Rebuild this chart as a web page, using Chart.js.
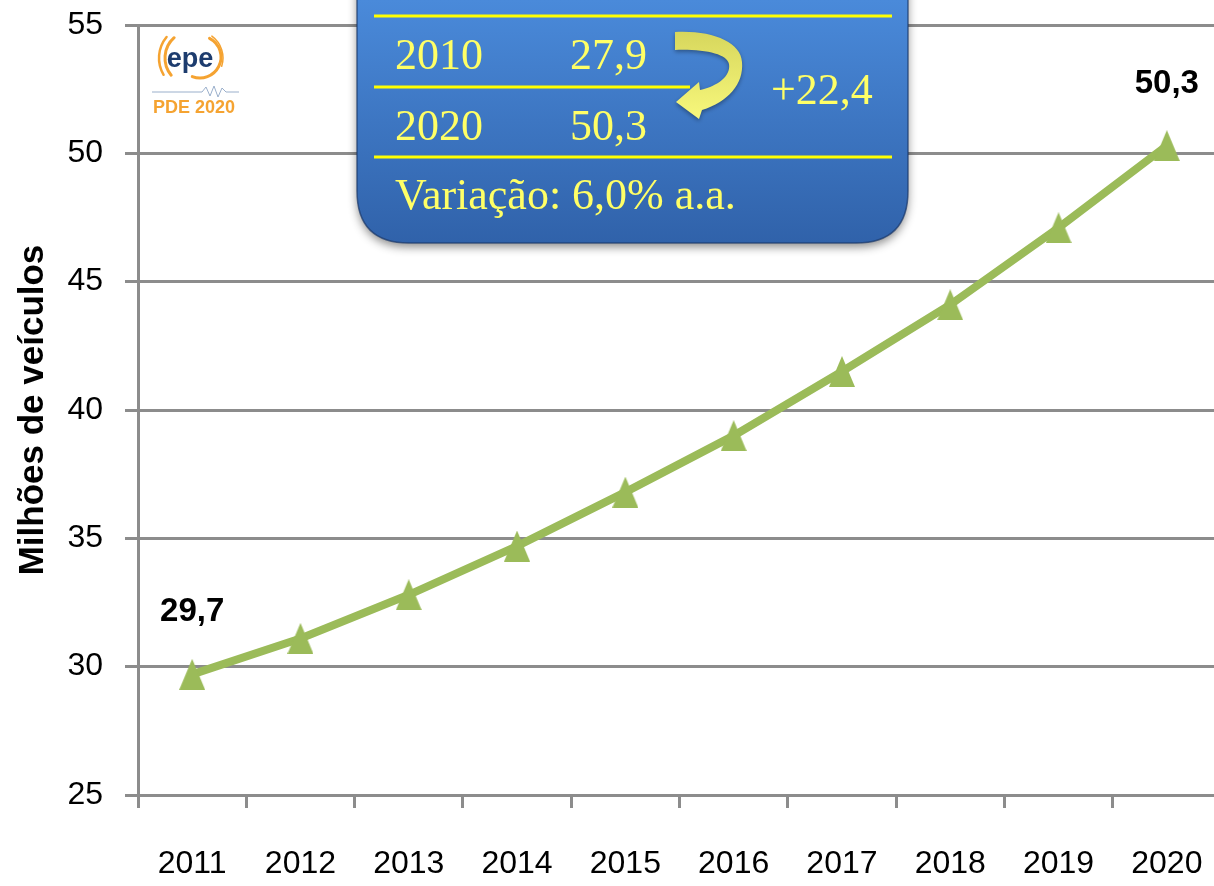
<!DOCTYPE html>
<html><head><meta charset="utf-8">
<script src="https://cdn.jsdelivr.net/npm/chart.js@4.4.0/dist/chart.umd.min.js"></script>
<style>
html,body{margin:0;padding:0;background:#fff;overflow:hidden;}
#wrap{position:relative;width:1243px;height:886px;}
canvas{display:block;}
</style></head><body>
<div id="wrap"><canvas id="c" width="1243" height="886"></canvas></div>
<script>
// ---- data ----
const years = ['2011','2012','2013','2014','2015','2016','2017','2018','2019','2020'];
const fleet = [29.7, 31.1, 32.8, 34.7, 36.8, 39.0, 41.5, 44.1, 47.1, 50.3];
const yTicks = [25, 30, 35, 40, 45, 50, 55];
const labelledIdx = [0, 9];
const boxYears = ['2010', '2020'];
const boxValues = ['27,9', '50,3'];
const boxDelta = '+22,4';
const boxRate = 'Variação: 6,0% a.a.';
const axisTitle = 'Milhões de veículos';
const logoWord = 'epe';
const logoSub = 'PDE 2020';

const TICKFONT = '"Liberation Sans", Arial, sans-serif';
const GREEN = '#9BBB59';
const GRID = '#8c8c8c';

// triangle marker (taller than wide, like the reference)
const tri = document.createElement('canvas');
tri.width = 26; tri.height = 31;
(function(){
  const t = tri.getContext('2d');
  t.fillStyle = GREEN;
  t.beginPath(); t.moveTo(13,0); t.lineTo(26,31); t.lineTo(0,31); t.closePath(); t.fill();
})();

function rr(ctx, x, y, w, h, r){
  ctx.beginPath();
  ctx.moveTo(x+r, y); ctx.lineTo(x+w-r, y); ctx.quadraticCurveTo(x+w, y, x+w, y+r);
  ctx.lineTo(x+w, y+h-r); ctx.quadraticCurveTo(x+w, y+h, x+w-r, y+h);
  ctx.lineTo(x+r, y+h); ctx.quadraticCurveTo(x, y+h, x, y+h-r);
  ctx.lineTo(x, y+r); ctx.quadraticCurveTo(x, y, x+r, y); ctx.closePath();
}

const decor = {
  id: 'decor',
  afterDatasetsDraw(chart){
    const ctx = chart.ctx;
    const meta = chart.getDatasetMeta(0);
    // data labels
    ctx.save();
    ctx.font = 'bold 33px ' + TICKFONT;
    ctx.fillStyle = '#000';
    ctx.textAlign = 'center';
    ctx.textBaseline = 'middle';
    labelledIdx.forEach(i => {
      const p = meta.data[i];
      ctx.fillText(String(fleet[i]).replace('.', ','), p.x, p.y - 62);
    });
    ctx.restore();

    // info box
    ctx.save();
    const bx = 357, by = -80, bw = 551, bh = 323;
    ctx.shadowColor = 'rgba(0,0,0,0.45)';
    ctx.shadowBlur = 10; ctx.shadowOffsetY = 4;
    const g = ctx.createLinearGradient(0, 0, 0, 243);
    g.addColorStop(0, '#4A8ADA'); g.addColorStop(1, '#3062AA');
    ctx.fillStyle = g;
    rr(ctx, bx, by, bw, bh, 52); ctx.fill();
    ctx.shadowColor = 'transparent';
    ctx.strokeStyle = 'rgba(25,55,105,0.7)'; ctx.lineWidth = 1.5;
    rr(ctx, bx, by, bw, bh, 52); ctx.stroke();
    // yellow rules
    ctx.strokeStyle = '#FFFF00'; ctx.lineWidth = 3;
    ctx.beginPath();
    ctx.moveTo(374, 16); ctx.lineTo(892, 16);
    ctx.moveTo(374, 87); ctx.lineTo(690, 87);
    ctx.moveTo(374, 157); ctx.lineTo(892, 157);
    ctx.stroke();
    // texts
    ctx.fillStyle = '#FFFF66';
    ctx.font = '44px "Liberation Serif", "DejaVu Serif", serif';
    ctx.textAlign = 'left'; ctx.textBaseline = 'alphabetic';
    ctx.fillText(boxYears[0], 395, 69);
    ctx.fillText(boxValues[0], 570, 69);
    ctx.fillText(boxYears[1], 395, 140);
    ctx.fillText(boxValues[1], 570, 140);
    ctx.fillText(boxDelta, 771, 104);
    ctx.fillText(boxRate, 395, 209);
    // curved arrow
    ctx.shadowColor = 'rgba(0,0,0,0.35)'; ctx.shadowBlur = 4; ctx.shadowOffsetY = 2;
    const ag = ctx.createLinearGradient(0, 30, 0, 120);
    ag.addColorStop(0, '#D6D65C'); ag.addColorStop(1, '#F8F87C');
    ctx.fillStyle = ag;
    ctx.beginPath();
    ctx.moveTo(675, 32);
    ctx.bezierCurveTo(712, 30, 741, 42, 742, 62);
    ctx.bezierCurveTo(744, 84, 728, 102, 702, 110);
    ctx.lineTo(699, 119);
    ctx.lineTo(676, 102);
    ctx.lineTo(699, 82);
    ctx.lineTo(700, 90);
    ctx.bezierCurveTo(718, 86, 731, 76, 729, 64);
    ctx.bezierCurveTo(727, 54, 705, 49, 675, 50);
    ctx.closePath(); ctx.fill();
    ctx.restore();

    // logo
    ctx.save();
    ctx.strokeStyle = '#F5A331'; ctx.lineCap = 'round';
    ctx.lineWidth = 2.5;
    ctx.beginPath(); ctx.arc(192, 58, 33, Math.PI*0.83, Math.PI*1.22); ctx.stroke();
    ctx.lineWidth = 3;
    ctx.beginPath(); ctx.arc(192, 58, 27, Math.PI*0.78, Math.PI*1.27); ctx.stroke();
    ctx.beginPath(); ctx.arc(200, 57, 21, -Math.PI*0.35, Math.PI*0.62); ctx.stroke();
    ctx.lineWidth = 1.5;
    ctx.beginPath(); ctx.arc(196, 58, 27, -Math.PI*0.30, Math.PI*0.10); ctx.stroke();
    ctx.fillStyle = '#1D3C6E';
    ctx.font = 'bold 27px "Liberation Sans", Arial, sans-serif';
    ctx.textAlign = 'center'; ctx.textBaseline = 'alphabetic';
    ctx.fillText(logoWord, 190, 67);
    ctx.strokeStyle = '#9AAFCB'; ctx.lineWidth = 1; ctx.lineCap = 'butt';
    ctx.beginPath();
    ctx.moveTo(152, 92); ctx.lineTo(202, 92); ctx.lineTo(206, 87); ctx.lineTo(210, 96);
    ctx.lineTo(214, 86); ctx.lineTo(218, 97); ctx.lineTo(222, 88); ctx.lineTo(226, 92);
    ctx.lineTo(239, 92); ctx.stroke();
    ctx.fillStyle = '#F5A331';
    ctx.font = 'bold 18px "Liberation Sans", Arial, sans-serif';
    ctx.fillText(logoSub, 194, 113);
    ctx.restore();
  }
};

new Chart(document.getElementById('c'), {
  type: 'line',
  data: {
    labels: years,
    datasets: [{
      data: fleet,
      borderColor: GREEN,
      backgroundColor: GREEN,
      borderWidth: 8,
      tension: 0,
      pointStyle: tri,
      pointRadius: 14,
      pointHoverRadius: 14,
      fill: false
    }]
  },
  options: {
    responsive: false,
    animation: false,
    events: [],
    layout: { padding: { top: 25, right: 10, left: 0, bottom: 0 } },
    plugins: { legend: { display: false }, tooltip: { enabled: false } },
    scales: {
      x: {
        type: 'category',
        offset: true,
        grid: { offset: true, drawOnChartArea: false, drawTicks: true, tickLength: 13, color: GRID, lineWidth: 3 },
        border: { display: true, color: GRID, width: 3 },
        ticks: { color: '#000', font: { size: 32, family: TICKFONT }, padding: 37, maxRotation: 0, autoSkip: false },
        afterFit: s => { s.height = 91; }
      },
      y: {
        min: 25, max: 55,
        afterBuildTicks: s => { s.ticks = yTicks.map(v => ({ value: v })); },
        grid: { color: GRID, lineWidth: 3, tickLength: 13, drawTicks: true },
        border: { display: true, color: GRID, width: 3 },
        ticks: { color: '#000', font: { size: 32, family: TICKFONT }, padding: 22 },
        title: { display: true, text: axisTitle, color: '#000', font: { size: 35, weight: 'bold', family: '"Liberation Sans", Arial, sans-serif' }, padding: { top: 12, bottom: 0 } },
        afterFit: s => { s.width = 138; s.paddingTop = 0; s.paddingBottom = 0; }
      }
    }
  },
  plugins: [decor]
});
</script>
</body></html>
